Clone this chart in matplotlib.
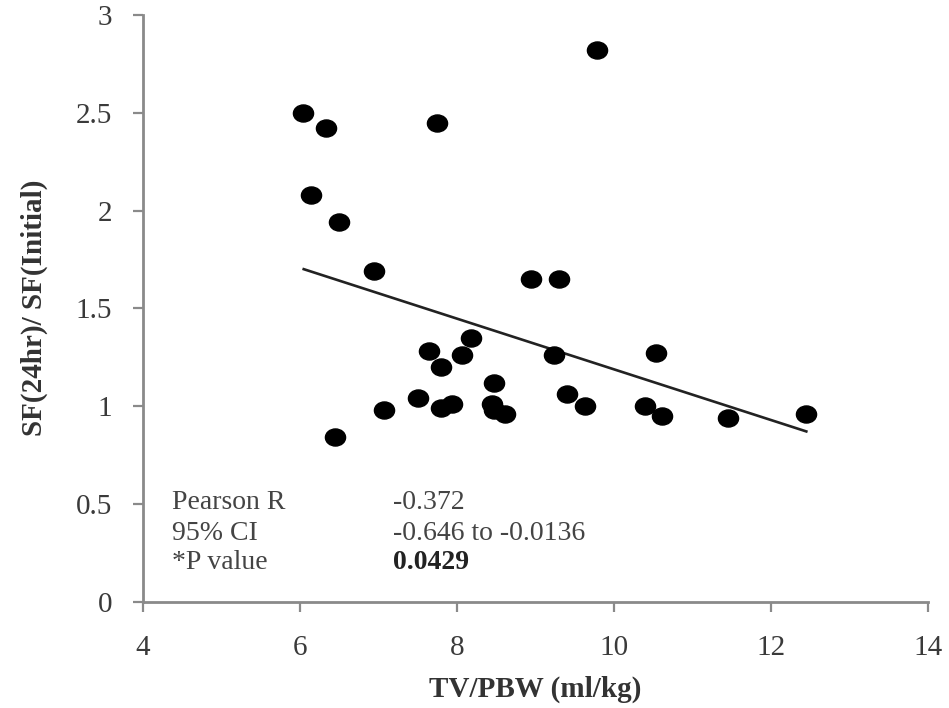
import matplotlib
matplotlib.use("Agg")
import matplotlib.pyplot as plt
from matplotlib.path import Path
from matplotlib.transforms import Affine2D

# TV/PBW (ml/kg) for each patient
tv_pbw = [6.04, 6.34, 7.75, 6.14, 6.50, 6.95, 9.79, 8.95, 9.30,
          7.65, 7.80, 8.06, 8.18, 9.24, 10.53, 8.47, 7.51, 7.80,
          7.94, 8.45, 8.47, 8.61, 9.40, 9.63, 10.39, 10.61, 7.07,
          6.45, 11.45, 12.45]
# SF(24hr) / SF(Initial) ratio for each patient
sf_ratio = [2.50, 2.42, 2.45, 2.08, 1.94, 1.69, 2.82, 1.65, 1.65,
            1.28, 1.20, 1.26, 1.35, 1.26, 1.27, 1.12, 1.04, 0.99,
            1.01, 1.01, 0.98, 0.96, 1.06, 1.00, 1.00, 0.95, 0.98,
            0.84, 0.94, 0.96]

# Regression line end points
fit_x = [6.05, 12.45]
fit_y = [1.70, 0.87]

x_ticks = [4, 6, 8, 10, 12, 14]
y_ticks = [0, 0.5, 1, 1.5, 2, 2.5, 3]
y_tick_labels = ["0", "0.5", "1", "1.5", "2", "2.5", "3"]

stat_names = ["Pearson R", "95% CI", "*P value"]
stat_values = ["-0.372", "-0.646 to -0.0136", "0.0429"]

plt.rcParams["font.family"] = ["Liberation Serif", "DejaVu Serif"]

fig = plt.figure(figsize=(9.49, 7.08), dpi=100)
ax = fig.add_axes([0.1504, 0.1504, 0.8275, 0.8284])

# slightly wide round dots
dot = Path.unit_circle().transformed(Affine2D().scale(1.18, 1.0))
ax.plot(tv_pbw, sf_ratio, linestyle="none", marker=dot, markersize=14.5,
        color="black", zorder=3)
ax.plot(fit_x, fit_y, color="#222222", linewidth=1.9, zorder=2)

ax.set_xlim(4, 14)
ax.set_ylim(0, 3)
ax.set_xticks(x_ticks)
ax.set_yticks(y_ticks)
ax.set_yticklabels(y_tick_labels)

axis_grey = "#8a8a8a"
for side in ("top", "right"):
    ax.spines[side].set_visible(False)
for side in ("left", "bottom"):
    ax.spines[side].set_color(axis_grey)
    ax.spines[side].set_linewidth(2.0)
ax.tick_params(axis="both", direction="out", length=7, width=1.6,
               color=axis_grey, labelsize=21, labelcolor="#3a3a3a")
ax.tick_params(axis="y", pad=15)
ax.tick_params(axis="x", pad=17)

ax.set_xlabel("TV/PBW (ml/kg)", fontsize=21, fontweight="bold",
              color="#333333", labelpad=11)
ax.set_ylabel("SF(24hr)/ SF(Initial)", fontsize=21, fontweight="bold",
              color="#333333", labelpad=20)

row_y = [0.504, 0.35, 0.20]
for name, value, y in zip(stat_names, stat_values, row_y):
    bold = name.startswith("*")
    ax.text(4.37, y, name, fontsize=20, color="#444444", va="center", ha="left")
    ax.text(7.19, y, value, fontsize=20, va="center", ha="left",
            color="#222222" if bold else "#444444",
            fontweight="bold" if bold else "normal")

fig.savefig("out.png", dpi=100)
